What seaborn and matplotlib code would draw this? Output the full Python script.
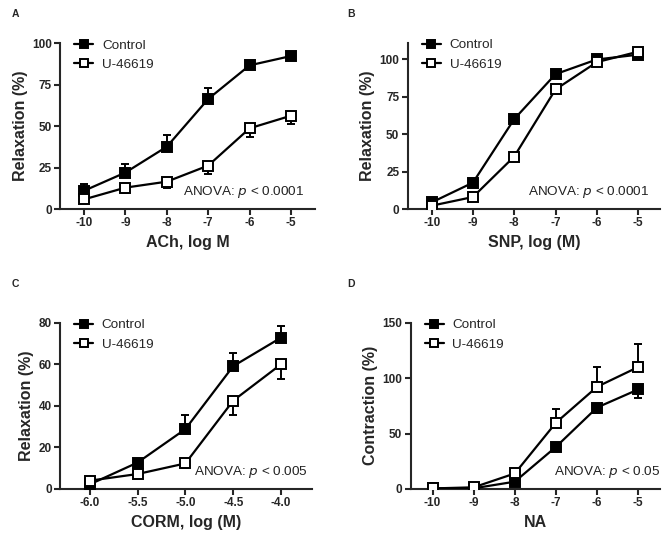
import matplotlib
matplotlib.use("Agg")
import matplotlib.pyplot as plt
import pandas as pd
import seaborn as sns

sns.set_style("ticks")
plt.rcParams["font.family"] = ["Liberation Sans", "DejaVu Sans"]

# -----------------------------
# Data
# -----------------------------
log_dose = [-10, -9, -8, -7, -6, -5]
corm_dose = [-6.0, -5.5, -5.0, -4.5, -4.0]

# A: ACh
ach_ctrl = [11, 22, 37.6, 66.4, 86.7, 92.3]
ach_ctrl_err = [4, 5, 7, 6.5, 1.5, 1]
ach_u = [5.8, 12.9, 16.5, 26.2, 48.7, 56.3]
ach_u_err = [1.5, 3, 4, 5, 5, 5]

# B: SNP
snp_ctrl = [4.4, 17.6, 60, 90, 99.8, 103]
snp_ctrl_err = [1, 1.5, 3, 1.5, 1, 1]
snp_u = [2.2, 8, 35, 79.8, 98, 105]
snp_u_err = [1, 1, 3, 2, 1, 1]

# C: CORM
corm_ctrl = [2.2, 12.7, 28.8, 59.1, 72.8]
corm_ctrl_err = [0.5, 1, 7, 6.5, 5.7]
corm_u = [4, 7.2, 12.3, 42.5, 60]
corm_u_err = [0.5, 1, 2.4, 7, 7]

# D: NA
na_ctrl = [0.6, 0.6, 6.6, 38, 73.5, 89.8]
na_ctrl_err = [0.3, 0.3, 1.5, 4, 5, 8]
na_u = [0.5, 1.5, 14, 59.8, 92.2, 110]
na_u_err = [0.3, 0.5, 2, 12, 17.5, 20.5]

panels = [
    # letter, x, ctrl, ctrl_err, u, u_err, ctrl_up, xlabel, ylabel, yticks, ylim, xlim, xticklabels, anova, axes rect, anova_x
    ("A", log_dose, ach_ctrl, ach_ctrl_err, ach_u, ach_u_err, True, "ACh, log M", "Relaxation (%)",
     [0, 25, 50, 75, 100], (0, 100), (-10.58, -4.42), ["-10", "-9", "-8", "-7", "-6", "-5"],
     "0.0001", [0.0897, 0.6108, 0.3812, 0.3086], 0.96),
    ("B", log_dose, snp_ctrl, snp_ctrl_err, snp_u, snp_u_err, True, "SNP, log (M)", "Relaxation (%)",
     [0, 25, 50, 75, 100], (0, 111), (-10.58, -4.47), ["-10", "-9", "-8", "-7", "-6", "-5"],
     "0.0001", [0.6094, 0.6108, 0.3771, 0.3097], 0.96),
    ("C", corm_dose, corm_ctrl, corm_ctrl_err, corm_u, corm_u_err, True, "CORM, log (M)", "Relaxation (%)",
     [0, 20, 40, 60, 80], (0, 80), (-6.31, -3.68), ["-6.0", "-5.5", "-5.0", "-4.5", "-4.0"],
     "0.005", [0.0897, 0.0894, 0.3762, 0.3097], 0.985),
    ("D", log_dose, na_ctrl, na_ctrl_err, na_u, na_u_err, False, "NA", "Contraction (%)",
     [0, 50, 100, 150], (0, 150), (-10.53, -4.47), ["-10", "-9", "-8", "-7", "-6", "-5"],
     "0.05", [0.6139, 0.0894, 0.3727, 0.3097], 1.0),
]

fig = plt.figure(figsize=(6.69, 5.37), dpi=100)

letter_pos = {"A": (0.018, 0.983), "B": (0.519, 0.983), "C": (0.018, 0.48), "D": (0.519, 0.48)}

for (letter, x, ctrl, ctrl_err, u, u_err, ctrl_up, xlabel, ylabel, yticks, ylim, xlim,
     xticklabels, anova, rect, anova_x) in panels:
    ax = fig.add_axes(rect)
    df = pd.DataFrame({"x": x + x,
                       "y": ctrl + u,
                       "group": ["Control"] * len(x) + ["U-46619"] * len(x)})

    zero = [0] * len(x)
    # one-sided error bars, pointing away from the other curve
    if ctrl_up:
        ctrl_yerr = [zero, ctrl_err]
        u_yerr = [u_err, zero]
    else:
        ctrl_yerr = [ctrl_err, zero]
        u_yerr = [zero, u_err]
    ax.errorbar(x, ctrl, yerr=ctrl_yerr, fmt="none", ecolor="black",
                elinewidth=1.4, capsize=3, capthick=1.4, zorder=1)
    ax.errorbar(x, u, yerr=u_yerr, fmt="none", ecolor="black",
                elinewidth=1.4, capsize=3, capthick=1.4, zorder=1)

    sns.lineplot(data=df[df["group"] == "Control"], x="x", y="y", ax=ax,
                 color="black", marker="s", markersize=6.5, markerfacecolor="black",
                 markeredgecolor="black", markeredgewidth=1.4, linewidth=1.6,
                 label="Control", zorder=3)
    sns.lineplot(data=df[df["group"] == "U-46619"], x="x", y="y", ax=ax,
                 color="black", marker="s", markersize=6.5, markerfacecolor="white",
                 markeredgecolor="black", markeredgewidth=1.4, linewidth=1.6,
                 label="U-46619", zorder=3)

    ax.set_xlim(*xlim)
    ax.set_ylim(*ylim)
    ax.set_xticks(x)
    ax.set_xticklabels(xticklabels)
    ax.set_yticks(yticks)
    for lab in ax.get_xticklabels() + ax.get_yticklabels():
        lab.set_fontweight("bold")
        lab.set_fontsize(8.5)
    ax.tick_params(width=1.5, length=4.5, direction="out", pad=1.5)
    sns.despine(ax=ax)
    for s in ["left", "bottom"]:
        ax.spines[s].set_linewidth(1.5)

    ax.set_xlabel(xlabel, fontsize=11.5, fontweight="bold", labelpad=4)
    ax.set_ylabel(ylabel, fontsize=11.5, fontweight="bold", labelpad=3)

    ax.legend(loc="upper left", bbox_to_anchor=(0.035, 1.055), frameon=False,
              fontsize=9.7, handlelength=1.4, handletextpad=0.65, labelspacing=0.5,
              borderaxespad=0, markerscale=0.9)

    ax.text(anova_x, 0.1, "ANOVA: $\\it{p}$ < " + anova, transform=ax.transAxes,
            ha="right", va="center", fontsize=9.7, color="#222222")

    lx, ly = letter_pos[letter]
    fig.text(lx, ly, letter, fontsize=7.5, fontweight="bold", ha="left", va="top")

fig.savefig("out.png", dpi=100)
